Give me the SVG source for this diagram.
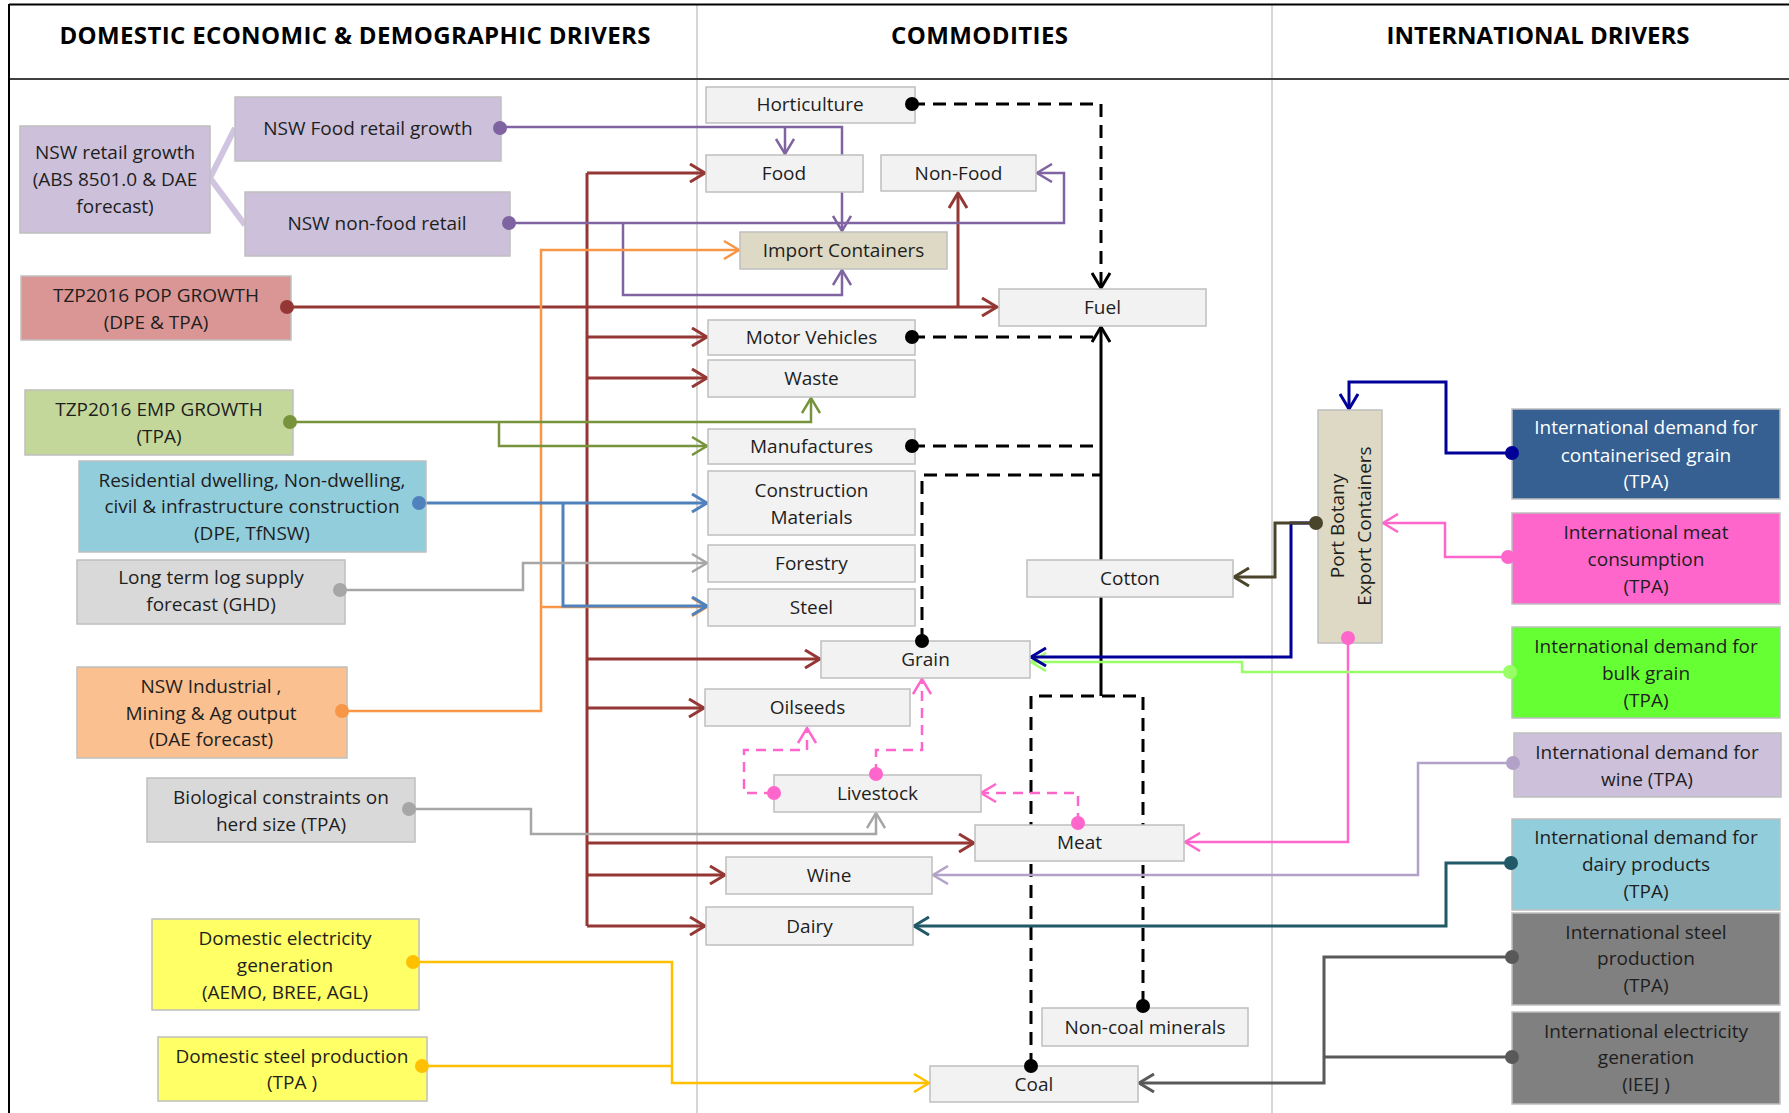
<svg xmlns="http://www.w3.org/2000/svg" width="1789" height="1113" viewBox="0 0 1789 1113">
<style>
.bg{fill:#ffffff}
.box{stroke:#bfbfbf;stroke-width:1.5}
.cm{fill:#f2f2f2}
.ct{fill:#ddd9c4}
.t{font-family:"Open Sans","Noto Sans","DejaVu Sans",sans-serif;font-size:19px;fill:#1e1e1e;text-anchor:middle}
.w{fill:#ffffff}
.h{font-weight:bold;font-size:24px;fill:#000000}
.ln{fill:none;stroke-linejoin:miter}
.s3{stroke-width:3}
.s25{stroke-width:2.5}
.dash{stroke-dasharray:13 8}
.pdash{stroke-dasharray:10 7}
</style>
<defs>
<marker id="m-red" viewBox="0 0 20 20" refX="18" refY="10" markerWidth="20" markerHeight="20" markerUnits="userSpaceOnUse" orient="auto"><path d="M3,1 L18,10 L3,19" fill="none" stroke="#953735" stroke-width="3"/></marker>
<marker id="m-purple" viewBox="0 0 20 20" refX="18" refY="10" markerWidth="20" markerHeight="20" markerUnits="userSpaceOnUse" orient="auto"><path d="M3,1 L18,10 L3,19" fill="none" stroke="#8064a2" stroke-width="2.5"/></marker>
<marker id="m-orange" viewBox="0 0 20 20" refX="18" refY="10" markerWidth="20" markerHeight="20" markerUnits="userSpaceOnUse" orient="auto"><path d="M3,1 L18,10 L3,19" fill="none" stroke="#f79646" stroke-width="2.5"/></marker>
<marker id="m-green" viewBox="0 0 20 20" refX="18" refY="10" markerWidth="20" markerHeight="20" markerUnits="userSpaceOnUse" orient="auto"><path d="M3,1 L18,10 L3,19" fill="none" stroke="#77933c" stroke-width="2.5"/></marker>
<marker id="m-blue" viewBox="0 0 20 20" refX="18" refY="10" markerWidth="20" markerHeight="20" markerUnits="userSpaceOnUse" orient="auto"><path d="M3,1 L18,10 L3,19" fill="none" stroke="#4f81bd" stroke-width="3"/></marker>
<marker id="m-gray" viewBox="0 0 20 20" refX="18" refY="10" markerWidth="20" markerHeight="20" markerUnits="userSpaceOnUse" orient="auto"><path d="M3,1 L18,10 L3,19" fill="none" stroke="#a6a6a6" stroke-width="2.5"/></marker>
<marker id="m-yellow" viewBox="0 0 20 20" refX="18" refY="10" markerWidth="20" markerHeight="20" markerUnits="userSpaceOnUse" orient="auto"><path d="M3,1 L18,10 L3,19" fill="none" stroke="#ffc000" stroke-width="2.5"/></marker>
<marker id="m-black" viewBox="0 0 20 20" refX="18" refY="10" markerWidth="20" markerHeight="20" markerUnits="userSpaceOnUse" orient="auto"><path d="M3,1 L18,10 L3,19" fill="none" stroke="#000000" stroke-width="3"/></marker>
<marker id="m-pink" viewBox="0 0 20 20" refX="18" refY="10" markerWidth="20" markerHeight="20" markerUnits="userSpaceOnUse" orient="auto"><path d="M3,1 L18,10 L3,19" fill="none" stroke="#ff66cc" stroke-width="2.5"/></marker>
<marker id="m-navy" viewBox="0 0 20 20" refX="18" refY="10" markerWidth="20" markerHeight="20" markerUnits="userSpaceOnUse" orient="auto"><path d="M3,1 L18,10 L3,19" fill="none" stroke="#000099" stroke-width="3"/></marker>
<marker id="m-lgreen" viewBox="0 0 20 20" refX="18" refY="10" markerWidth="20" markerHeight="20" markerUnits="userSpaceOnUse" orient="auto"><path d="M3,1 L18,10 L3,19" fill="none" stroke="#99ff66" stroke-width="2.5"/></marker>
<marker id="m-olive" viewBox="0 0 20 20" refX="18" refY="10" markerWidth="20" markerHeight="20" markerUnits="userSpaceOnUse" orient="auto"><path d="M3,1 L18,10 L3,19" fill="none" stroke="#4a452a" stroke-width="3"/></marker>
<marker id="m-lav" viewBox="0 0 20 20" refX="18" refY="10" markerWidth="20" markerHeight="20" markerUnits="userSpaceOnUse" orient="auto"><path d="M3,1 L18,10 L3,19" fill="none" stroke="#b3a2c7" stroke-width="2.5"/></marker>
<marker id="m-teal" viewBox="0 0 20 20" refX="18" refY="10" markerWidth="20" markerHeight="20" markerUnits="userSpaceOnUse" orient="auto"><path d="M3,1 L18,10 L3,19" fill="none" stroke="#215967" stroke-width="3"/></marker>
<marker id="m-dgray" viewBox="0 0 20 20" refX="18" refY="10" markerWidth="20" markerHeight="20" markerUnits="userSpaceOnUse" orient="auto"><path d="M3,1 L18,10 L3,19" fill="none" stroke="#595959" stroke-width="3"/></marker>
</defs>
<rect class="bg" x="0" y="0" width="1789" height="1113"/>
<g id="frame">
<line x1="697" y1="4" x2="697" y2="1113" stroke="#c8c8c8" stroke-width="1.5"/>
<line x1="1272" y1="4" x2="1272" y2="1113" stroke="#c8c8c8" stroke-width="1.5"/>
<line x1="9" y1="4.5" x2="1789" y2="4.5" stroke="#000000" stroke-width="2"/>
<line x1="9" y1="79" x2="1789" y2="79" stroke="#404040" stroke-width="2"/>
<line x1="9" y1="4" x2="9" y2="1113" stroke="#000000" stroke-width="2"/>
<text class="t h" x="355" y="44" textLength="591">DOMESTIC ECONOMIC &amp; DEMOGRAPHIC DRIVERS</text>
<text class="t h" x="979.5" y="44" textLength="177">COMMODITIES</text>
<text class="t h" x="1538" y="44" textLength="303">INTERNATIONAL DRIVERS</text>
</g>
<g id="connectors">
<path class="ln" d="M210,178 L235,128 M210,178 L245,225" stroke="#d0c4e0" stroke-width="6"/>
<!-- red -->
<g stroke="#953735" class="ln s3">
<path d="M287,307 H997" marker-end="url(#m-red)"/>
<path d="M958,307 V193" marker-end="url(#m-red)"/>
<path d="M587,173 V926"/>
<path d="M587,173 H705" marker-end="url(#m-red)"/>
<path d="M587,337 H707" marker-end="url(#m-red)"/>
<path d="M587,378 H707" marker-end="url(#m-red)"/>
<path d="M587,659 H820" marker-end="url(#m-red)"/>
<path d="M587,708 H704" marker-end="url(#m-red)"/>
<path d="M587,843 H974" marker-end="url(#m-red)"/>
<path d="M587,875 H725" marker-end="url(#m-red)"/>
<path d="M587,926 H705" marker-end="url(#m-red)"/>
</g>
<!-- purple -->
<g stroke="#8064a2" class="ln s25">
<path d="M500,127 H842 V231" marker-end="url(#m-purple)"/>
<path d="M785,127 V154" marker-end="url(#m-purple)"/>
<path d="M509,223 H1064 V173 H1037" marker-end="url(#m-purple)"/>
<path d="M623,223 V295 H842 V270" marker-end="url(#m-purple)"/>
</g>
<!-- orange -->
<g stroke="#f79646" class="ln s25">
<path d="M342,711 H541 V250 H739" marker-end="url(#m-orange)"/>
<path d="M541,607 H707" marker-end="url(#m-orange)"/>
</g>
<!-- green -->
<g stroke="#77933c" class="ln s25">
<path d="M290,422 H811 V398" marker-end="url(#m-green)"/>
<path d="M499,422 V446 H707" marker-end="url(#m-green)"/>
</g>
<!-- blue -->
<g stroke="#4f81bd" class="ln s3">
<path d="M419,503 H707" marker-end="url(#m-blue)"/>
<path d="M563,503 V606 H707" marker-end="url(#m-blue)"/>
</g>
<!-- gray -->
<g stroke="#a6a6a6" class="ln s25">
<path d="M340,590 H523 V563 H707" marker-end="url(#m-gray)"/>
<path d="M409,809 H531 V834 H876 V813" marker-end="url(#m-gray)"/>
</g>
<!-- yellow -->
<g stroke="#ffc000" class="ln s25">
<path d="M413,962 H672 V1083 H929" marker-end="url(#m-yellow)"/>
<path d="M422,1066 H672"/>
</g>
<!-- black -->
<g stroke="#000000" class="ln s3">
<path class="dash" d="M912,104 H1101 V288" marker-end="url(#m-black)"/>
<path class="dash" d="M912,337 H1095"/>
<path class="dash" d="M912,446 H1095"/>
<path class="dash" d="M922,641 V475 H1100"/>
<path class="dash" d="M1031,1066 V696 H1143 V1006"/>
<path d="M1101,696 V327" marker-end="url(#m-black)"/>
</g>
<!-- pink -->
<g stroke="#ff66cc" class="ln s25">
<path class="pdash" d="M876,774 V750 H922 V679" marker-end="url(#m-pink)"/>
<path class="pdash" d="M774,793 H744 V750 H807 V728" marker-end="url(#m-pink)"/>
<path class="pdash" d="M1078,823 V793 H981" marker-end="url(#m-pink)"/>
<path d="M1508,557 H1445 V523 H1383" marker-end="url(#m-pink)"/>
<path d="M1348,638 V842 H1185" marker-end="url(#m-pink)"/>
</g>
<!-- right side -->
<g class="ln">
<path class="s3" stroke="#000099" d="M1512,453 H1446 V382 H1349 V409" marker-end="url(#m-navy)"/>
<path class="s25" stroke="#99ff66" d="M1510,672 H1242 V662 H1031" marker-end="url(#m-lgreen)"/>
<path class="s3" stroke="#000099" d="M1316,523 H1291 V657 H1031" marker-end="url(#m-navy)"/>
<path class="s3" stroke="#4a452a" d="M1316,523 H1275 V577 H1234" marker-end="url(#m-olive)"/>
<path class="s25" stroke="#b3a2c7" d="M1513,763 H1418 V875 H933" marker-end="url(#m-lav)"/>
<path class="s3" stroke="#215967" d="M1511,863 H1446 V926 H914" marker-end="url(#m-teal)"/>
<path class="s3" stroke="#595959" d="M1512,957 H1324 V1083 H1139" marker-end="url(#m-dgray)"/>
<path class="s3" stroke="#595959" d="M1512,1057 H1324"/>
</g>
</g>
<!-- left nodes -->
<g id="n-retail"><rect class="box" x="20" y="126" width="190" height="107" fill="#ccc0da"/><text class="t" x="115" y="159">NSW retail growth</text><text class="t" x="115" y="186">(ABS 8501.0 &amp; DAE</text><text class="t" x="115" y="213">forecast)</text></g>
<g id="n-foodretail"><rect class="box" x="235" y="97" width="266" height="64" fill="#ccc0da"/><text class="t" x="368" y="135">NSW Food retail growth</text></g>
<g id="n-nonfoodretail"><rect class="box" x="245" y="192" width="265" height="64" fill="#ccc0da"/><text class="t" x="377" y="230">NSW non-food retail</text></g>
<g id="n-pop"><rect class="box" x="21" y="276" width="270" height="64" fill="#da9694"/><text class="t" x="156" y="302">TZP2016 POP GROWTH</text><text class="t" x="156" y="329">(DPE &amp; TPA)</text></g>
<g id="n-emp"><rect class="box" x="25" y="390" width="268" height="65" fill="#c4d79b"/><text class="t" x="159" y="416">TZP2016 EMP GROWTH</text><text class="t" x="159" y="443">(TPA)</text></g>
<g id="n-resid"><rect class="box" x="79" y="461" width="347" height="91" fill="#92cddc"/><text class="t" x="252" y="487">Residential dwelling, Non-dwelling,</text><text class="t" x="252" y="513">civil &amp; infrastructure construction</text><text class="t" x="252" y="540">(DPE, TfNSW)</text></g>
<g id="n-log"><rect class="box" x="77" y="560" width="268" height="64" fill="#d9d9d9"/><text class="t" x="211" y="584">Long term log supply</text><text class="t" x="211" y="611">forecast (GHD)</text></g>
<g id="n-ind"><rect class="box" x="77" y="667" width="270" height="91" fill="#fac090"/><text class="t" x="211" y="693">NSW Industrial ,</text><text class="t" x="211" y="720">Mining &amp; Ag output</text><text class="t" x="211" y="746">(DAE forecast)</text></g>
<g id="n-bio"><rect class="box" x="147" y="778" width="268" height="64" fill="#d9d9d9"/><text class="t" x="281" y="804">Biological constraints on</text><text class="t" x="281" y="831">herd size (TPA)</text></g>
<g id="n-elec"><rect class="box" x="152" y="919" width="267" height="91" fill="#ffff66"/><text class="t" x="285" y="945">Domestic electricity</text><text class="t" x="285" y="972">generation</text><text class="t" x="285" y="999">(AEMO, BREE, AGL)</text></g>
<g id="n-dsteel"><rect class="box" x="158" y="1037" width="269" height="64" fill="#ffff66"/><text class="t" x="292" y="1063">Domestic steel production</text><text class="t" x="292" y="1089">(TPA )</text></g>
<!-- commodities -->
<g id="c-horticulture"><rect class="box cm" x="706" y="87" width="209" height="36"/><text class="t" x="810" y="111">Horticulture</text></g>
<g id="c-food"><rect class="box cm" x="706" y="155" width="157" height="37"/><text class="t" x="784" y="180">Food</text></g>
<g id="c-nonfood"><rect class="box cm" x="881" y="155" width="155" height="36"/><text class="t" x="958.5" y="180">Non-Food</text></g>
<g id="c-import"><rect class="box ct" x="740" y="232" width="207" height="37"/><text class="t" x="843.5" y="257">Import Containers</text></g>
<g id="c-fuel"><rect class="box cm" x="999" y="289" width="207" height="37"/><text class="t" x="1102.5" y="314">Fuel</text></g>
<g id="c-motor"><rect class="box cm" x="708" y="320" width="207" height="35"/><text class="t" x="811.5" y="344">Motor Vehicles</text></g>
<g id="c-waste"><rect class="box cm" x="708" y="360" width="207" height="37"/><text class="t" x="811.5" y="385">Waste</text></g>
<g id="c-manuf"><rect class="box cm" x="708" y="429" width="207" height="35"/><text class="t" x="811.5" y="453">Manufactures</text></g>
<g id="c-constr"><rect class="box cm" x="708" y="471" width="207" height="64"/><text class="t" x="811.5" y="497">Construction</text><text class="t" x="811.5" y="524">Materials</text></g>
<g id="c-forestry"><rect class="box cm" x="708" y="545" width="207" height="37"/><text class="t" x="811.5" y="570">Forestry</text></g>
<g id="c-steel"><rect class="box cm" x="708" y="589" width="207" height="37"/><text class="t" x="811.5" y="614">Steel</text></g>
<g id="c-grain"><rect class="box cm" x="821" y="641" width="209" height="37"/><text class="t" x="925.5" y="666">Grain</text></g>
<g id="c-cotton"><rect class="box cm" x="1027" y="560" width="206" height="37"/><text class="t" x="1130" y="585">Cotton</text></g>
<g id="c-oilseeds"><rect class="box cm" x="705" y="689" width="205" height="37"/><text class="t" x="807.5" y="714">Oilseeds</text></g>
<g id="c-livestock"><rect class="box cm" x="774" y="775" width="207" height="37"/><text class="t" x="877.5" y="800">Livestock</text></g>
<g id="c-meat"><rect class="box cm" x="975" y="825" width="209" height="36"/><text class="t" x="1079.5" y="849">Meat</text></g>
<g id="c-wine"><rect class="box cm" x="726" y="857" width="206" height="37"/><text class="t" x="829" y="882">Wine</text></g>
<g id="c-dairy"><rect class="box cm" x="706" y="907" width="207" height="38"/><text class="t" x="809.5" y="933">Dairy</text></g>
<g id="c-noncoal"><rect class="box cm" x="1042" y="1008" width="206" height="38"/><text class="t" x="1145" y="1034">Non-coal minerals</text></g>
<g id="c-coal"><rect class="box cm" x="930" y="1066" width="208" height="36"/><text class="t" x="1034" y="1091">Coal</text></g>
<!-- international -->
<g id="c-portbotany"><rect class="box ct" x="1318" y="410" width="64" height="233"/><text class="t" transform="translate(1344,526) rotate(-90)">Port Botany</text><text class="t" transform="translate(1371,526) rotate(-90)">Export Containers</text></g>
<g id="i-contgrain"><rect class="box" x="1512" y="409" width="268" height="90" fill="#366092"/><text class="t w" x="1646" y="434">International demand for</text><text class="t w" x="1646" y="462">containerised grain</text><text class="t w" x="1646" y="488">(TPA)</text></g>
<g id="i-meat"><rect class="box" x="1512" y="513" width="268" height="91" fill="#ff66cc"/><text class="t" x="1646" y="539">International meat</text><text class="t" x="1646" y="566">consumption</text><text class="t" x="1646" y="593">(TPA)</text></g>
<g id="i-bulkgrain"><rect class="box" x="1512" y="627" width="268" height="91" fill="#66ff33"/><text class="t" x="1646" y="653">International demand for</text><text class="t" x="1646" y="680">bulk grain</text><text class="t" x="1646" y="707">(TPA)</text></g>
<g id="i-wine"><rect class="box" x="1514" y="733" width="267" height="64" fill="#ccc0da"/><text class="t" x="1647" y="759">International demand for</text><text class="t" x="1647" y="786">wine (TPA)</text></g>
<g id="i-dairy"><rect class="box" x="1512" y="819" width="268" height="91" fill="#92cddc"/><text class="t" x="1646" y="844">International demand for</text><text class="t" x="1646" y="871">dairy products</text><text class="t" x="1646" y="898">(TPA)</text></g>
<g id="i-steel"><rect class="box" x="1512" y="913" width="268" height="92" fill="#808080"/><text class="t" x="1646" y="939">International steel</text><text class="t" x="1646" y="965">production</text><text class="t" x="1646" y="992">(TPA)</text></g>
<g id="i-elec"><rect class="box" x="1512" y="1012" width="268" height="92" fill="#808080"/><text class="t" x="1646" y="1038">International electricity</text><text class="t" x="1646" y="1064">generation</text><text class="t" x="1646" y="1091">(IEEJ )</text></g>
<g id="ports">
<circle cx="500" cy="128" r="7" fill="#8064a2"/>
<circle cx="509" cy="223" r="7" fill="#8064a2"/>
<circle cx="287" cy="307" r="7" fill="#953735"/>
<circle cx="290" cy="422" r="7" fill="#77933c"/>
<circle cx="419" cy="503" r="7" fill="#4f81bd"/>
<circle cx="340" cy="590" r="7" fill="#a6a6a6"/>
<circle cx="342" cy="711" r="7" fill="#f79646"/>
<circle cx="409" cy="809" r="7" fill="#a6a6a6"/>
<circle cx="413" cy="962" r="7" fill="#ffc000"/>
<circle cx="422" cy="1066" r="7" fill="#ffc000"/>
<circle cx="912" cy="104" r="7" fill="#000000"/>
<circle cx="912" cy="337" r="7" fill="#000000"/>
<circle cx="912" cy="446" r="7" fill="#000000"/>
<circle cx="922" cy="641" r="7" fill="#000000"/>
<circle cx="1143" cy="1006" r="7" fill="#000000"/>
<circle cx="1031" cy="1066" r="7" fill="#000000"/>
<circle cx="876" cy="774" r="7" fill="#ff66cc"/>
<circle cx="774" cy="793" r="7" fill="#ff66cc"/>
<circle cx="1078" cy="823" r="7" fill="#ff66cc"/>
<circle cx="1348" cy="638" r="7" fill="#ff66cc"/>
<circle cx="1316" cy="523" r="7" fill="#4a452a"/>
<circle cx="1512" cy="453" r="7" fill="#000099"/>
<circle cx="1508" cy="557" r="7" fill="#ff66cc"/>
<circle cx="1510" cy="672" r="7" fill="#99ff66"/>
<circle cx="1513" cy="763" r="7" fill="#b3a2c7"/>
<circle cx="1511" cy="863" r="7" fill="#215967"/>
<circle cx="1512" cy="957" r="7" fill="#595959"/>
<circle cx="1512" cy="1057" r="7" fill="#595959"/>
</g>
</svg>
